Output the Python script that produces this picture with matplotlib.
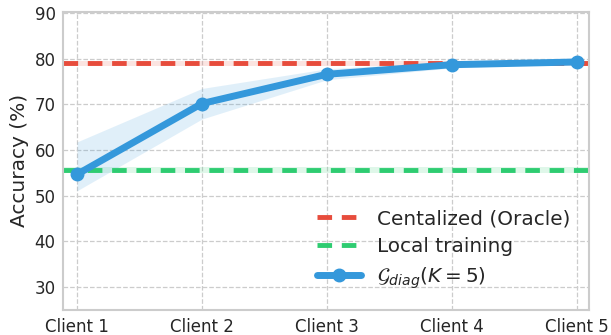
import matplotlib.pyplot as plt
import numpy as np
import seaborn as sns

clients = ['Client 1', 'Client 2', 'Client 3', 'Client 4', 'Client 5']
oracle_acc = 79.0
oracle_std = 0.5
local_acc = 55.6
local_std = 0.6
gdiag_acc = [54.7, 70.2, 76.6, 78.7, 79.3]
gdiag_lo = [51.1, 66.8, 75.4, 78.0, 79.0]
gdiag_hi = [61.8, 73.5, 77.8, 79.4, 79.6]

sns.set_style('whitegrid', {'grid.linestyle': '--'})
plt.rcParams['font.family'] = ['DejaVu Sans']

red, green, blue = '#e74c3c', '#2ecc71', '#3498db'

fig = plt.figure(figsize=(6.11, 3.35), dpi=100)
ax = fig.add_axes([0.1036, 0.0746, 0.8604, 0.8904])
x = np.arange(len(clients))

xs = [-0.11, 4.1]
ax.fill_between(xs, oracle_acc - oracle_std, oracle_acc + oracle_std, color=red, alpha=0.15, lw=0)
ax.plot(xs, [oracle_acc] * 2, '--', color=red, lw=3.5, dashes=(3, 2), label='Centalized (Oracle)')
ax.fill_between(xs, local_acc - local_std, local_acc + local_std, color=green, alpha=0.15, lw=0)
ax.plot(xs, [local_acc] * 2, '--', color=green, lw=3.5, dashes=(3, 2), label='Local training')

ax.fill_between(x, gdiag_lo, gdiag_hi, color=blue, alpha=0.15, lw=0)
ax.plot(x, gdiag_acc, '-o', color=blue, lw=5, ms=9, label=r'$\mathcal{G}_{diag}(K=5)$')

ax.set_xlim(-0.11, 4.1)
ax.set_ylim(25, 90.3)
ax.set_yticks([30, 40, 50, 60, 70, 80, 90])
ax.set_xticks(x)
ax.set_xticklabels(clients)
ax.tick_params(labelsize=12, colors='#262626', pad=2)
ax.set_ylabel('Accuracy (%)', fontsize=14.5, color='#262626')
ax.grid(True, color='#cccccc', linestyle='--', lw=0.9)
for s in ax.spines.values():
    s.set_color('#cccccc')
    s.set_linewidth(1.5)

ax.legend(loc='lower right', bbox_to_anchor=(0.998, 0.005), frameon=False, fontsize=14.4,
          handlelength=2.2, labelspacing=0.45)

fig.savefig('out.png', dpi=100)
